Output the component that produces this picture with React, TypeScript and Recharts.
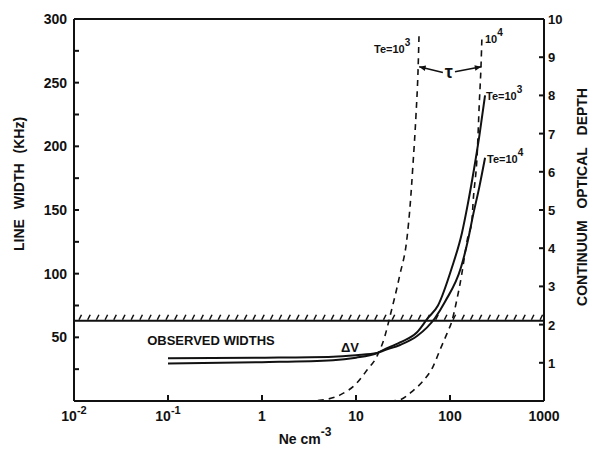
import React from "react";
import { LineChart, Line, XAxis, YAxis, ReferenceLine, ReferenceDot } from "recharts";

// electron density ticks (log axis) and their printed labels [base, exponent]
const neTicks = [0.01, 0.1, 1, 10, 100, 1000];
const neTickLabels = [["10", "-2"], ["10", "-1"], ["1", ""], ["10", ""], ["100", ""], ["1000", ""]];
const widthTicks = [0, 25, 50, 75, 100, 125, 150, 175, 200, 225, 250, 275, 300];
const depthTicks = [0, 1, 2, 3, 4, 5, 6, 7, 8, 9, 10];

// line width (kHz), Te = 10^3
const widthNe3 = [0.1, 1, 5.7, 10, 16.7, 19.4, 29.4, 44.6, 58, 74.5, 105, 134, 155, 180, 205, 236];
const widthVal3 = [33.5, 34, 34.8, 36, 37.7, 40, 46, 54, 65, 75, 105, 132, 155, 182, 208, 240];
// line width (kHz), Te = 10^4
const widthNe4 = [0.1, 1, 5.7, 10, 16.7, 19.4, 29.4, 44.6, 69, 88.5, 131, 155, 176, 205, 236];
const widthVal4 = [29.5, 30.5, 32, 34, 37.5, 39.5, 44, 51, 65, 78, 105, 126, 146, 168, 191];

// continuum optical depth, Te = 10^3
const tauNe3 = [3, 4.1, 6.8, 10.2, 13.1, 16.7, 20.3, 22.9, 29, 35, 37.6, 40.4, 43.5, 45.7, 46.8];
const tauVal3 = [0, 0.02, 0.16, 0.47, 0.81, 1.17, 1.7, 2.2, 3.26, 4.3, 5.1, 6.2, 7.5, 8.64, 9.55];
// continuum optical depth, Te = 10^4
const tauNe4 = [23, 29, 40, 51.5, 66, 78, 93, 105, 118, 133, 141, 155, 171, 176, 195, 205, 214, 219];
const tauVal4 = [0, 0.03, 0.26, 0.52, 0.9, 1.33, 1.77, 2.1, 2.64, 3.3, 3.7, 4.3, 4.7, 5.2, 6.5, 7.8, 8.8, 9.6];

const observedWidth = 63;

const rows = (xs: number[], ys: number[]) => xs.map((ne, i) => ({ ne, v: ys[i] }));

const FONT = "'Liberation Sans', Arial, sans-serif";
const INK = "#111";

const NeTick = (p: any) => {
  const i = neTicks.indexOf(p.payload.value);
  const [base, exp] = neTickLabels[i] || ["", ""];
  return (
    <text x={p.x} y={p.y} dy={12} textAnchor="middle" fontFamily={FONT} fontWeight="bold" fontSize={14} fill={INK}>
      {base}
      {exp && <tspan dy={-7} fontSize={11}>{exp}</tspan>}
    </text>
  );
};

const WidthTick = (p: any) => {
  const v = p.payload.value;
  if (v === 0 || v % 50 !== 0) return null;
  return (
    <text x={p.x} y={p.y} dy={5} textAnchor="end" fontFamily={FONT} fontWeight="bold" fontSize={14} fill={INK}>
      {v}
    </text>
  );
};

const DepthTick = (p: any) => {
  const v = p.payload.value;
  if (v === 0) return null;
  return (
    <text x={p.x} y={p.y} dy={5} textAnchor="start" fontFamily={FONT} fontWeight="bold" fontSize={13} fill={INK}>
      {v}
    </text>
  );
};

const Hatched = (p: any) => {
  const { x1, y1, x2, y2 } = p;
  const marks = [];
  for (let x = x1 + 5; x < x2 - 2; x += 8.7) {
    marks.push(<line key={x} x1={x} y1={y1 - 1} x2={x + 2.5} y2={y1 - 6} stroke={INK} strokeWidth={1.5} />);
  }
  return (
    <g>
      <line x1={x1} y1={y1} x2={x2} y2={y2} stroke={INK} strokeWidth={2} />
      {marks}
    </g>
  );
};

// arrow with its head at the (x1, y1) end
const Arrow = (p: any) => {
  const { x1, y1, x2, y2 } = p;
  const a = Math.atan2(y1 - y2, x1 - x2);
  const h = 7;
  const pts = [
    [x1, y1],
    [x1 - h * Math.cos(a - 0.4), y1 - h * Math.sin(a - 0.4)],
    [x1 - h * Math.cos(a + 0.4), y1 - h * Math.sin(a + 0.4)],
  ]
    .map((q) => q.join(","))
    .join(" ");
  return (
    <g>
      <line x1={x1} y1={y1} x2={x2} y2={y2} stroke={INK} strokeWidth={1.6} />
      <polygon points={pts} fill={INK} />
    </g>
  );
};

const Te = (dx: number, dy: number, exp: string, prefix = "Te=10") => (p: any) => (
  <text x={p.cx + dx} y={p.cy + dy} fontFamily={FONT} fontWeight="bold" fontSize={11} fill={INK}>
    {prefix}
    <tspan dy={-7} fontSize={10}>{exp}</tspan>
  </text>
);

const TextAt = (dx: number, dy: number, label: string, size: number, anchor = "start") => (p: any) => (
  <text x={p.cx + dx} y={p.cy + dy} textAnchor={anchor} fontFamily={FONT} fontWeight="bold" fontSize={size} fill={INK}>
    {label}
  </text>
);

export default function App() {
  return (
    <div style={{ position: "absolute", left: 0, top: 0, width: 590, height: 449, background: "#fff" }}>
      <LineChart width={590} height={449} margin={{ top: 18, right: 0, bottom: 0, left: 0 }}>
        <XAxis
          xAxisId="top"
          orientation="top"
          type="number"
          dataKey="ne"
          scale="log"
          domain={[0.01, 1000]}
          ticks={neTicks}
          height={1}
          tick={false}
          tickSize={-5}
          stroke={INK}
          strokeWidth={2}
          allowDataOverflow
        />
        <XAxis
          type="number"
          dataKey="ne"
          scale="log"
          domain={[0.01, 1000]}
          ticks={neTicks}
          height={48}
          tick={<NeTick />}
          tickSize={-6}
          tickMargin={14}
          stroke={INK}
          strokeWidth={2}
          allowDataOverflow
          label={{
            content: (p: any) => {
              const vb = p.viewBox;
              return (
                <text x={vb.x + vb.width / 2 - 4} y={vb.y + 43} textAnchor="middle" fontFamily={FONT} fontWeight="bold" fontSize={14} fill={INK}>
                  Ne  cm
                  <tspan dy={-8} fontSize={12}>-3</tspan>
                </text>
              );
            },
          }}
        />
        <YAxis
          yAxisId="left"
          type="number"
          domain={[0, 300]}
          ticks={widthTicks}
          width={74}
          tick={<WidthTick />}
          tickSize={-5}
          tickMargin={12}
          stroke={INK}
          strokeWidth={2}
          label={{
            content: (p: any) => {
              const vb = p.viewBox;
              return (
                <text
                  transform={`translate(${vb.x + 24},${vb.y + 165}) rotate(-90)`}
                  textAnchor="middle"
                  fontFamily={FONT}
                  fontWeight="bold"
                  fontSize={14}
                  fill={INK}
                  style={{ wordSpacing: 6 }}
                >
                  LINE WIDTH (KHz)
                </text>
              );
            },
          }}
        />
        <YAxis
          yAxisId="right"
          orientation="right"
          type="number"
          domain={[0, 10]}
          ticks={depthTicks}
          width={46}
          tick={<DepthTick />}
          tickSize={-5}
          tickMargin={9}
          stroke={INK}
          strokeWidth={2}
          label={{
            content: (p: any) => {
              const vb = p.viewBox;
              return (
                <text
                  transform={`translate(${vb.x + 43},${vb.y + 178}) rotate(-90)`}
                  textAnchor="middle"
                  fontFamily={FONT}
                  fontWeight="bold"
                  fontSize={14}
                  fill={INK}
                  style={{ wordSpacing: 8 }}
                >
                  CONTINUUM OPTICAL DEPTH
                </text>
              );
            },
          }}
        />

        <ReferenceLine yAxisId="left" y={observedWidth} shape={Hatched} />

        <Line data={rows(widthNe3, widthVal3)} dataKey="v" yAxisId="left" type="monotone" stroke={INK} strokeWidth={2} dot={false} isAnimationActive={false} />
        <Line data={rows(widthNe4, widthVal4)} dataKey="v" yAxisId="left" type="monotone" stroke={INK} strokeWidth={2} dot={false} isAnimationActive={false} />
        <Line data={rows(tauNe3, tauVal3)} dataKey="v" yAxisId="right" type="monotone" stroke={INK} strokeWidth={1.6} strokeDasharray="6 5" dot={false} isAnimationActive={false} />
        <Line data={rows(tauNe4, tauVal4)} dataKey="v" yAxisId="right" type="monotone" stroke={INK} strokeWidth={1.6} strokeDasharray="6 5" dot={false} isAnimationActive={false} />

        <ReferenceLine yAxisId="right" segment={[{ x: 47, y: 8.75 }, { x: 84, y: 8.6 }]} shape={Arrow} />
        <ReferenceLine yAxisId="right" segment={[{ x: 215, y: 8.75 }, { x: 113, y: 8.62 }]} shape={Arrow} />
        <ReferenceDot yAxisId="right" x={97} y={8.6} ifOverflow="visible" shape={TextAt(0, 6, "τ", 18, "middle")} />

        <ReferenceDot yAxisId="right" x={tauNe3[tauNe3.length - 1]} y={tauVal3[tauVal3.length - 1]} ifOverflow="visible" shape={Te(-45, 17, "3")} />
        <ReferenceDot yAxisId="right" x={tauNe4[tauNe4.length - 1]} y={tauVal4[tauVal4.length - 1]} ifOverflow="visible" shape={Te(3, 9, "4", "10")} />
        <ReferenceDot yAxisId="left" x={widthNe3[widthNe3.length - 1]} y={widthVal3[widthVal3.length - 1]} ifOverflow="visible" shape={Te(1, 5, "3")} />
        <ReferenceDot yAxisId="left" x={widthNe4[widthNe4.length - 1]} y={widthVal4[widthVal4.length - 1]} ifOverflow="visible" shape={Te(2, 5, "4")} />
        <ReferenceDot yAxisId="left" x={10} y={36} ifOverflow="visible" shape={TextAt(-15, -3, "ΔV", 13)} />
        <ReferenceDot yAxisId="left" x={0.06} y={observedWidth} ifOverflow="visible" shape={TextAt(0, 24, "OBSERVED WIDTHS", 13)} />
      </LineChart>
    </div>
  );
}
